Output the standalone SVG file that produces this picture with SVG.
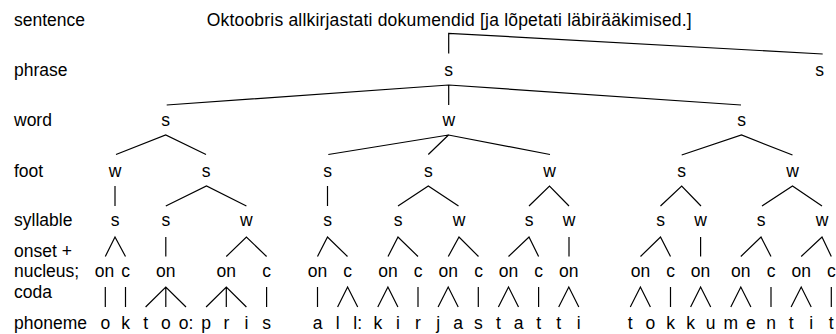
<svg xmlns="http://www.w3.org/2000/svg" width="836" height="334" viewBox="0 0 836 334">
<style>
text{font-family:"Liberation Sans",Arial,sans-serif;font-size:17.5px;fill:#000}
.n text{text-anchor:middle}
.lab{text-anchor:start}
#conn path{fill:none;stroke:#000;stroke-width:1.2}
</style>
<rect width="836" height="334" fill="#fff"/>
<g id="labels">
<text class="lab" x="14" y="25.5">sentence</text>
<text class="lab" x="14" y="76">phrase</text>
<text class="lab" x="14" y="126">word</text>
<text class="lab" x="14" y="176.5">foot</text>
<text class="lab" x="14" y="225.5">syllable</text>
<text class="lab" x="14" y="257">onset +</text>
<text class="lab" x="14" y="277">nucleus;</text>
<text class="lab" x="14" y="297.5">coda</text>
<text class="lab" x="14" y="328.5">phoneme</text>
</g>
<g id="conn">
<path d="M448.7,53.5V33.3L822.7,54"/>
<path d="M166.7,105L448.7,85L741,105M448.7,85V105"/>
<path d="M116,154.5L165.7,135L206,154.5"/>
<path d="M328.3,154.5L448.5,135L550,154.5M448.5,135L428.3,154.5"/>
<path d="M681.7,155L741.5,135L792.5,155"/>
<path d="M115,186V206"/>
<path d="M165.8,206L206.5,186L246.4,206"/>
<path d="M327.5,186V206"/>
<path d="M398,206L428.3,186L458.5,206"/>
<path d="M529,206L549.5,186L569,206"/>
<path d="M660.5,206L681.7,186L701,206"/>
<path d="M762,206L792.5,186L822,206"/>
<path d="M105.3,256.5L115,237L125.5,256.5"/>
<path d="M165.8,237V256.5"/>
<path d="M226.3,256.5L246.4,237L266.6,256.5"/>
<path d="M317.5,256.5L327.5,237L347.5,256.5"/>
<path d="M388,256.5L398,237L418,256.5"/>
<path d="M448.3,256.5L459,237L478.5,256.5"/>
<path d="M508.5,256.5L529,237L538.6,256.5"/>
<path d="M569,237V256.5"/>
<path d="M640.5,256.5L660.5,237L670.5,256.5"/>
<path d="M700.6,237V256.5"/>
<path d="M740.8,256.5L761,237L771,256.5"/>
<path d="M801.2,256.5L822,237L831.3,256.5"/>
<path d="M105.3,287V307M125.5,287V307"/>
<path d="M145.6,307L165.8,287L186,307M165.8,287V307"/>
<path d="M206.1,307L226.3,287L246.4,307M226.3,287V307"/>
<path d="M266.6,287V307"/>
<path d="M317.5,287V307"/>
<path d="M337.6,307L347.6,287L357.7,307"/>
<path d="M377.8,307L387.9,287L397.9,307"/>
<path d="M418,287V307"/>
<path d="M438.1,307L448.2,287L458.2,307"/>
<path d="M478.3,287V307"/>
<path d="M498.4,307L508.5,287L518.5,307"/>
<path d="M538.6,287V307"/>
<path d="M558.7,307L568.8,287L578.8,307"/>
<path d="M630.3,307L640.4,287L650.4,307"/>
<path d="M670.5,287V307"/>
<path d="M690.6,307L700.6,287L710.7,307"/>
<path d="M730.8,307L740.8,287L750.9,307"/>
<path d="M771,287V307"/>
<path d="M791.1,307L801.2,287L811.2,307"/>
<path d="M831.3,287V307"/>
</g>
<g id="sentence" class="n"><text x="449.2" y="25.5" textLength="485" lengthAdjust="spacing">Oktoobris allkirjastati dokumendid [ja lõpetati läbirääkimised.]</text></g>
<g id="phrase" class="n">
<text x="448.7" y="75.5">s</text>
<text x="819.5" y="75.5">s</text>
</g>
<g id="word" class="n">
<text x="165.7" y="126">s</text>
<text x="448.7" y="126">w</text>
<text x="741.5" y="126">s</text>
</g>
<g id="foot" class="n">
<text x="115" y="176.5">w</text>
<text x="206" y="176.5">s</text>
<text x="327.7" y="176.5">s</text>
<text x="428.3" y="176.5">s</text>
<text x="549.5" y="176.5">w</text>
<text x="681.5" y="176.5">s</text>
<text x="792.5" y="176.5">w</text>
</g>
<g id="syllable" class="n">
<text x="115" y="225.5">s</text>
<text x="165.8" y="225.5">s</text>
<text x="246.4" y="225.5">w</text>
<text x="327.5" y="225.5">s</text>
<text x="398" y="225.5">s</text>
<text x="459" y="225.5">w</text>
<text x="529" y="225.5">s</text>
<text x="569" y="225.5">w</text>
<text x="660.5" y="225.5">s</text>
<text x="700.6" y="225.5">w</text>
<text x="761" y="225.5">s</text>
<text x="822" y="225.5">w</text>
</g>
<g id="onc" class="n">
<text x="104.5" y="277">on</text>
<text x="125.5" y="277">c</text>
<text x="165.8" y="277">on</text>
<text x="226.3" y="277">on</text>
<text x="266.6" y="277">c</text>
<text x="317.5" y="277">on</text>
<text x="347.5" y="277">c</text>
<text x="387.9" y="277">on</text>
<text x="418" y="277">c</text>
<text x="448.2" y="277">on</text>
<text x="478.5" y="277">c</text>
<text x="508.5" y="277">on</text>
<text x="538.6" y="277">c</text>
<text x="568.8" y="277">on</text>
<text x="640.4" y="277">on</text>
<text x="670.5" y="277">c</text>
<text x="700.6" y="277">on</text>
<text x="740.8" y="277">on</text>
<text x="771" y="277">c</text>
<text x="801.2" y="277">on</text>
<text x="831.3" y="277">c</text>
</g>
<g id="phoneme" class="n">
<text x="105.3" y="328.5">o</text>
<text x="125.5" y="328.5">k</text>
<text x="145.6" y="328.5">t</text>
<text x="165.8" y="328.5">o</text>
<text x="186" y="328.5">o:</text>
<text x="206.1" y="328.5">p</text>
<text x="226.3" y="328.5">r</text>
<text x="246.4" y="328.5">i</text>
<text x="266.6" y="328.5">s</text>
<text x="317.5" y="328.5">a</text>
<text x="337.6" y="328.5">l</text>
<text x="357.7" y="328.5">l:</text>
<text x="377.8" y="328.5">k</text>
<text x="397.9" y="328.5">i</text>
<text x="418" y="328.5">r</text>
<text x="438.1" y="328.5">j</text>
<text x="458.2" y="328.5">a</text>
<text x="478.3" y="328.5">s</text>
<text x="498.4" y="328.5">t</text>
<text x="518.5" y="328.5">a</text>
<text x="538.6" y="328.5">t</text>
<text x="558.7" y="328.5">t</text>
<text x="578.8" y="328.5">i</text>
<text x="630.3" y="328.5">t</text>
<text x="650.4" y="328.5">o</text>
<text x="670.5" y="328.5">k</text>
<text x="690.6" y="328.5">k</text>
<text x="710.7" y="328.5">u</text>
<text x="730.8" y="328.5">m</text>
<text x="750.9" y="328.5">e</text>
<text x="771" y="328.5">n</text>
<text x="791.1" y="328.5">t</text>
<text x="811.2" y="328.5">i</text>
<text x="831.3" y="328.5">t</text>
</g>
</svg>
